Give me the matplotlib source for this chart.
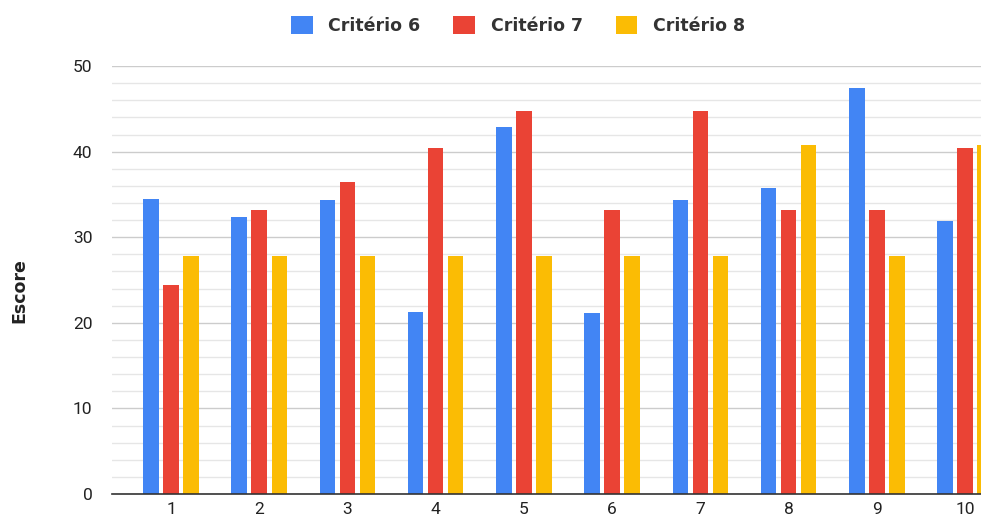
import matplotlib
matplotlib.use("Agg")
import matplotlib.pyplot as plt
import numpy as np

# data
groups  = ['1', '2', '3', '4', '5', '6', '7', '8', '9', '10']
crit6   = [34.5, 32.4, 34.3, 21.3, 42.9, 21.1, 34.3, 35.7, 47.4, 31.9]
crit7   = [24.4, 33.2, 36.5, 40.4, 44.7, 33.2, 44.7, 33.2, 33.2, 40.4]
crit8   = [27.8, 27.8, 27.8, 27.8, 27.8, 27.8, 27.8, 40.8, 27.8, 40.8]
names   = ['Critério 6', 'Critério 7', 'Critério 8']
colors  = ['#4285F4', '#EA4335', '#FBBC04']

plt.rcParams['font.family'] = ['Roboto', 'DejaVu Sans']

fig = plt.figure(figsize=(9.81, 5.2), dpi=100)
ax = fig.add_axes([0.114, 0.05, 0.886, 0.823])

x = np.arange(len(groups))
pitch = 0.227
width = 0.175
handles = []
for k, (vals, col, nm) in enumerate(zip([crit6, crit7, crit8], colors, names)):
  b = ax.bar(x + (k - 1) * pitch, vals, width, color=col, label=nm, zorder=3)
  handles.append(b)

ax.set_ylim(0, 50)
ax.set_xlim(-0.67, 9.18)
ax.set_yticks(np.arange(0, 51, 10))
ax.set_yticks(np.arange(0, 51, 2), minor=True)
ax.grid(axis='y', which='major', color='#cccccc', linewidth=1.0, zorder=0)
ax.grid(axis='y', which='minor', color='#e6e6e6', linewidth=1.0, zorder=0)
ax.set_xticks(x)
ax.set_xticklabels(groups)
ax.tick_params(axis='both', which='both', length=0, labelsize=12.5, colors='#222222')
ax.tick_params(axis='y', pad=14)
ax.tick_params(axis='x', pad=6)
for s in ['top', 'right', 'left']:
  ax.spines[s].set_visible(False)
ax.spines['bottom'].set_color('#333333')
ax.spines['bottom'].set_linewidth(1.2)
ax.spines['bottom'].set_zorder(4)

fig.text(0.020, 0.442, 'Escore', rotation=90, fontsize=12.5, fontweight='bold',
         ha='center', va='center', color='#222222', family='DejaVu Sans')

leg = fig.legend(handles=handles, loc='center', bbox_to_anchor=(0.528, 0.951),
                 ncol=3, frameon=False, handlelength=1.25, handleheight=1.2,
                 handletextpad=0.9, columnspacing=1.9,
                 prop={'size': 12.5, 'weight': 'bold', 'family': 'DejaVu Sans'})
for t in leg.get_texts():
  t.set_color('#333333')

fig.savefig('out.png', dpi=100)
